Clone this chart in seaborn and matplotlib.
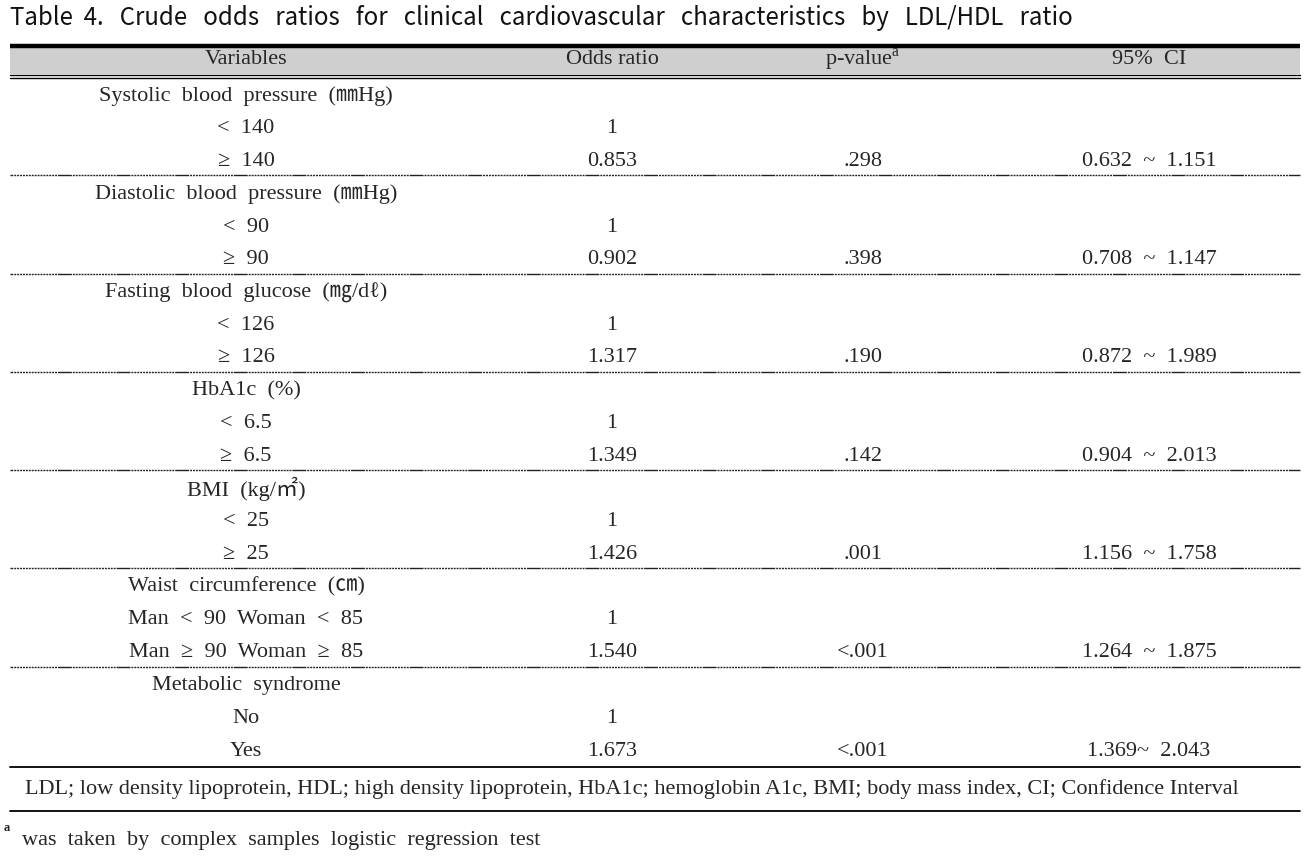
import matplotlib
matplotlib.use("Agg")
import matplotlib.pyplot as plt
import seaborn as sns

# table content
title = "Table  4.   Crude   odds   ratios   for   clinical   cardiovascular   characteristics   by   LDL/HDL   ratio"
headers = ["Variables", "Odds ratio", "p-value$^{\\mathrm{a}}$", "95%  CI"]
groups = ["Systolic  blood  pressure  (㎜Hg)",
          "Diastolic  blood  pressure  (㎜Hg)",
          "Fasting  blood  glucose  (㎎/dℓ)",
          "HbA1c  (%)",
          "BMI  (kg/㎡)",
          "Waist  circumference  (㎝)",
          "Metabolic  syndrome"]
levels = [["<  140", "≥  140"],
          ["<  90", "≥  90"],
          ["<  126", "≥  126"],
          ["<  6.5", "≥  6.5"],
          ["<  25", "≥  25"],
          ["Man  <  90  Woman  <  85", "Man  ≥  90  Woman  ≥  85"],
          ["No", "Yes"]]
odds = [["1", "0.853"], ["1", "0.902"], ["1", "1.317"], ["1", "1.349"],
        ["1", "1.426"], ["1", "1.540"], ["1", "1.673"]]
pvals = [".298", ".398", ".190", ".142", ".001", "<.001", "<.001"]
cis = ["0.632  ~  1.151", "0.708  ~  1.147", "0.872  ~  1.989", "0.904  ~  2.013",
       "1.156  ~  1.758", "1.264  ~  1.875", "1.369~  2.043"]
abbrev = ("LDL; low density lipoprotein, HDL; high density lipoprotein, HbA1c; hemoglobin A1c, "
          "BMI; body mass index, CI; Confidence Interval")
footnote = "was  taken  by  complex  samples  logistic  regression  test"

sns.set_theme(style="white")
serif = ["Liberation Serif", "Noto Sans CJK KR", "DejaVu Sans"]
sans = ["Noto Sans CJK KR", "DejaVu Sans"]
plt.rcParams["font.family"] = serif
plt.rcParams["mathtext.fontset"] = "custom"
plt.rcParams["mathtext.rm"] = "Liberation Serif"

W, H = 1309, 864
fig = plt.figure(figsize=(W / 100, H / 100), dpi=100)
ax = fig.add_axes([0, 0, 1, 1])
ax.set_xlim(0, W)
ax.set_ylim(H, 0)
ax.axis("off")

col_x = [246, 612, 863, 1149]
x0, x1 = 10, 1300
fs = 16

ax.text(10, 18, title, family=sans, fontsize=17.3, va="center", ha="left", color="#111111")

# header band
ax.add_patch(plt.Rectangle((x0, 46), x1 - x0, 28, color="#cfcfcf", lw=0, zorder=0))
ax.plot([x0, x1], [45.5, 45.5], color="black", lw=3.2, solid_capstyle="butt")
ax.plot([x0, x1], [74.5, 74.5], color="black", lw=1.0)
ax.plot([x0, x1], [77.5, 77.5], color="black", lw=1.0)
for x, h in zip(col_x, headers):
    ax.text(x, 60, h, fontsize=fs, ha="center", va="center")

# dash-dot separator: a solid dash followed by a run of fine dots
sep_dash = (8, [10, 0.7] + [1.4, 0.7] * 25)

y_start, step = 96, 32.75
row = 0
for g in range(len(groups)):
    ys = [y_start + (row + k) * step for k in range(3)]
    ax.text(col_x[0], ys[0], groups[g], fontsize=fs, ha="center", va="center")
    for k in range(2):
        ax.text(col_x[0], ys[k + 1], levels[g][k], fontsize=fs, ha="center", va="center")
        ax.text(col_x[1], ys[k + 1], odds[g][k], fontsize=fs, ha="center", va="center")
    ax.text(col_x[2], ys[2], pvals[g], fontsize=fs, ha="center", va="center")
    ax.text(col_x[3], ys[2], cis[g], fontsize=fs, ha="center", va="center")
    row += 3
    if g < len(groups) - 1:
        ysep = y_start + (row - 0.58) * step
        ax.plot([x0, x1], [ysep, ysep], color="#222222", lw=1.0, linestyle=sep_dash)

ybot = y_start + (row - 1) * step + 16
ax.plot([x0, x1], [ybot, ybot], color="black", lw=1.3)
ax.text(25, ybot + 22, abbrev, fontsize=16, ha="left", va="center")
ax.plot([x0, x1], [ybot + 44, ybot + 44], color="black", lw=1.3)
ax.text(4, ybot + 61, "a", fontsize=9, ha="left", va="center", fontweight="bold")
ax.text(22, ybot + 73, footnote, fontsize=fs, ha="left", va="center")

fig.savefig("out.png", dpi=100, facecolor="white")
